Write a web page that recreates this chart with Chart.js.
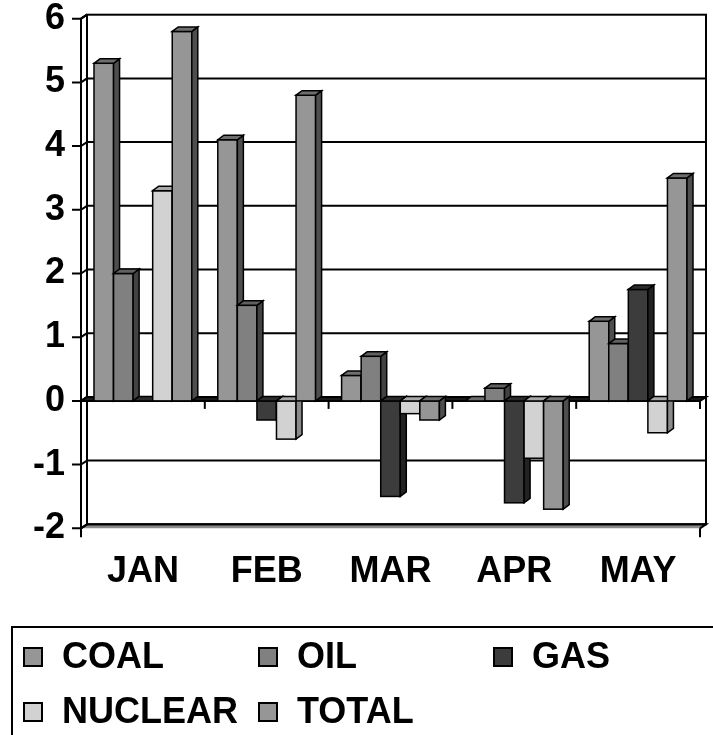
<!DOCTYPE html>
<html>
<head>
<meta charset="utf-8">
<script src="https://cdn.jsdelivr.net/npm/chart.js@4"></script>
<style>
  html, body { margin: 0; padding: 0; background: #fff; }
  #wrap { position: relative; width: 713px; height: 735px; }
</style>
</head>
<body>
<div id="wrap"><canvas id="chart"></canvas></div>
<script>
// Monthly change by energy source
const months = ['JAN', 'FEB', 'MAR', 'APR', 'MAY'];
const coal    = [5.3, 4.1, 0.4, 0.0, 1.25];
const oil     = [2.0, 1.5, 0.7, 0.2, 0.9];
const gas     = [0.0, -0.3, -1.5, -1.6, 1.75];
const nuclear = [3.3, -0.6, -0.2, -0.9, -0.5];
const total   = [5.8, 4.8, -0.3, -1.7, 3.5];

const seriesNames = ['COAL', 'OIL', 'GAS', 'NUCLEAR', 'TOTAL'];
const yMin = -2, yMax = 6, yStep = 1;

// face / side / top shades for each series
const faceColors = ['#969696', '#808080', '#3c3c3c', '#d2d2d2', '#969696'];
const sideColors = ['#4e4e4e', '#424242', '#222222', '#8a8a8a', '#4e4e4e'];
const topColors  = ['#6e6e6e', '#606060', '#2c2c2c', '#a8a8a8', '#6e6e6e'];

const FONT = '"Liberation Sans", Arial, sans-serif';
const WALL_DX = 6, WALL_DY = 4;   // depth of the back wall
const BAR_DX = 6, BAR_DY = 4.5;   // depth of each column

const values = [coal, oil, gas, nuclear, total];

const datasets = values.map((vals, i) => ({
  label: seriesNames[i],
  data: vals,
  backgroundColor: faceColors[i],
  borderColor: '#000',
  borderWidth: 1.5,
  borderSkipped: false,
  categoryPercentage: 0.79,
  barPercentage: 1.0
}));

// walls, floor, gridlines and axis ticks behind the columns
const walls = {
  id: 'walls',
  beforeDatasetsDraw(chart) {
    const { ctx, chartArea: a, scales: { x, y } } = chart;
    const yf = v => y.getPixelForValue(v);
    const yb = v => y.getPixelForValue(v) - WALL_DY;
    ctx.save();
    ctx.strokeStyle = '#000';
    ctx.lineWidth = 2;
    ctx.lineJoin = 'miter';

    // floor slab at the axis minimum
    ctx.beginPath();
    ctx.moveTo(a.left, yf(yMin));
    ctx.lineTo(a.right, yf(yMin));
    ctx.lineTo(a.right + WALL_DX, yb(yMin));
    ctx.lineTo(a.left + WALL_DX, yb(yMin));
    ctx.closePath();
    ctx.fillStyle = '#8c8c8c';
    ctx.fill();
    ctx.beginPath();
    ctx.moveTo(a.left, yf(yMin));
    ctx.lineTo(a.left + WALL_DX, yb(yMin));
    ctx.lineTo(a.right + WALL_DX, yb(yMin));
    ctx.lineTo(a.right, yf(yMin));
    ctx.stroke();

    // back wall outline
    ctx.strokeRect(a.left + WALL_DX, yb(yMax), a.right - a.left, yb(yMin) - yb(yMax));

    // gridlines on the back wall
    y.ticks.forEach(t => {
      if (t.value === yMin || t.value === yMax || t.value === 0) return;
      ctx.beginPath();
      ctx.moveTo(a.left + WALL_DX, yb(t.value));
      ctx.lineTo(a.right + WALL_DX, yb(t.value));
      ctx.stroke();
    });

    // left wall: front and back edges
    ctx.beginPath();
    ctx.moveTo(a.left, yf(yMax));
    ctx.lineTo(a.left, yf(yMin) + 9);
    ctx.moveTo(a.left, yf(yMax));
    ctx.lineTo(a.left + WALL_DX, yb(yMax));
    ctx.stroke();

    // value-axis tick marks, running back to the wall
    y.ticks.forEach(t => {
      ctx.beginPath();
      ctx.moveTo(a.left - 9, yf(t.value));
      ctx.lineTo(a.left, yf(t.value));
      ctx.lineTo(a.left + WALL_DX, yb(t.value));
      ctx.stroke();
    });

    // right front corner of the floor
    ctx.beginPath();
    ctx.moveTo(a.right, yf(yMin));
    ctx.lineTo(a.right, yf(yMin) + 9);
    ctx.stroke();

    // zero plane where the category axis crosses
    const y0 = yf(0);
    ctx.beginPath();
    ctx.moveTo(a.left, y0);
    ctx.lineTo(a.right, y0);
    ctx.lineTo(a.right + WALL_DX, y0 - WALL_DY);
    ctx.lineTo(a.left + WALL_DX, y0 - WALL_DY);
    ctx.closePath();
    ctx.fillStyle = '#1a1a1a';
    ctx.fill();
    ctx.stroke();

    // category tick marks below the zero line
    for (let i = 0; i < months.length; i++) {
      const bx = i < months.length - 1
        ? (x.getPixelForValue(i) + x.getPixelForValue(i + 1)) / 2
        : a.right;
      ctx.beginPath();
      ctx.moveTo(bx, y0);
      ctx.lineTo(bx, y0 + 8);
      ctx.stroke();
    }
    ctx.restore();
  },

  // columns drawn left to right so each front face hides its neighbour's side
  afterDatasetsDraw(chart) {
    const { ctx } = chart;
    ctx.save();
    ctx.strokeStyle = '#000';
    ctx.lineWidth = 1.5;
    ctx.lineJoin = 'miter';
    const metas = chart.data.datasets.map((d, i) => chart.getDatasetMeta(i));
    for (let c = 0; c < months.length; c++) {
      metas.forEach((meta, di) => {
        const el = meta.data[c];
        if (!el) return;
        const p = el.getProps(['x', 'y', 'base', 'width'], true);
        const left = p.x - p.width / 2, right = p.x + p.width / 2;
        const top = Math.min(p.y, p.base), bot = Math.max(p.y, p.base);
        if (bot - top > 0.5) {
          ctx.fillStyle = faceColors[di];
          ctx.fillRect(left, top, right - left, bot - top);
          ctx.strokeRect(left, top, right - left, bot - top);
          // side
          ctx.beginPath();
          ctx.moveTo(right, top);
          ctx.lineTo(right + BAR_DX, top - BAR_DY);
          ctx.lineTo(right + BAR_DX, bot - BAR_DY);
          ctx.lineTo(right, bot);
          ctx.closePath();
          ctx.fillStyle = sideColors[di];
          ctx.fill();
          ctx.stroke();
        }
        // top
        ctx.beginPath();
        ctx.moveTo(left, top);
        ctx.lineTo(left + BAR_DX, top - BAR_DY);
        ctx.lineTo(right + BAR_DX, top - BAR_DY);
        ctx.lineTo(right, top);
        ctx.closePath();
        ctx.fillStyle = topColors[di];
        ctx.fill();
        ctx.stroke();
      });
    }
    ctx.restore();
  }
};

// boxed legend laid out in columns
const boxLegend = {
  id: 'boxLegend',
  afterDraw(chart) {
    const { ctx } = chart;
    const cols = [24, 259, 494];
    const rows = [668, 723];
    ctx.save();
    ctx.strokeStyle = '#000';
    ctx.lineWidth = 2;
    ctx.strokeRect(12, 627, 800, 200);
    ctx.font = 'bold 36px ' + FONT;
    ctx.textBaseline = 'alphabetic';
    ctx.textAlign = 'left';
    chart.data.datasets.forEach((ds, i) => {
      const cx = cols[i % 3];
      const by = rows[Math.floor(i / 3)];
      ctx.fillStyle = ds.backgroundColor;
      ctx.fillRect(cx, by - 20, 18, 18);
      ctx.lineWidth = 2;
      ctx.strokeRect(cx, by - 20, 18, 18);
      ctx.fillStyle = '#000';
      ctx.fillText(ds.label, cx + 38, by);
    });
    ctx.restore();
  }
};

new Chart(document.getElementById('chart'), {
  type: 'bar',
  data: { labels: months, datasets },
  options: {
    responsive: true,
    maintainAspectRatio: false,
    animation: false,
    layout: { padding: { top: 18.7, right: 13, left: 0, bottom: 0 } },
    plugins: { legend: { display: false }, tooltip: { enabled: false } },
    scales: {
      x: {
        grid: { display: false, drawTicks: false },
        border: { display: false },
        ticks: {
          color: '#000',
          font: { family: FONT, size: 36, weight: 'bold', lineHeight: 1 },
          padding: 26,
          maxRotation: 0
        },
        afterFit(scale) {
          scale.height = 735 - 528.3;
          scale.paddingLeft = 0;
          scale.paddingRight = 0;
        }
      },
      y: {
        min: yMin,
        max: yMax,
        grid: { display: false, drawTicks: false },
        border: { display: false },
        ticks: {
          stepSize: yStep,
          color: '#000',
          font: { family: FONT, size: 36, weight: 'bold', lineHeight: 1 },
          padding: 16
        },
        afterFit(scale) {
          scale.width = 81;
          scale.paddingTop = 0;
          scale.paddingBottom = 0;
        }
      }
    }
  },
  plugins: [walls, boxLegend]
});
</script>
</body>
</html>
